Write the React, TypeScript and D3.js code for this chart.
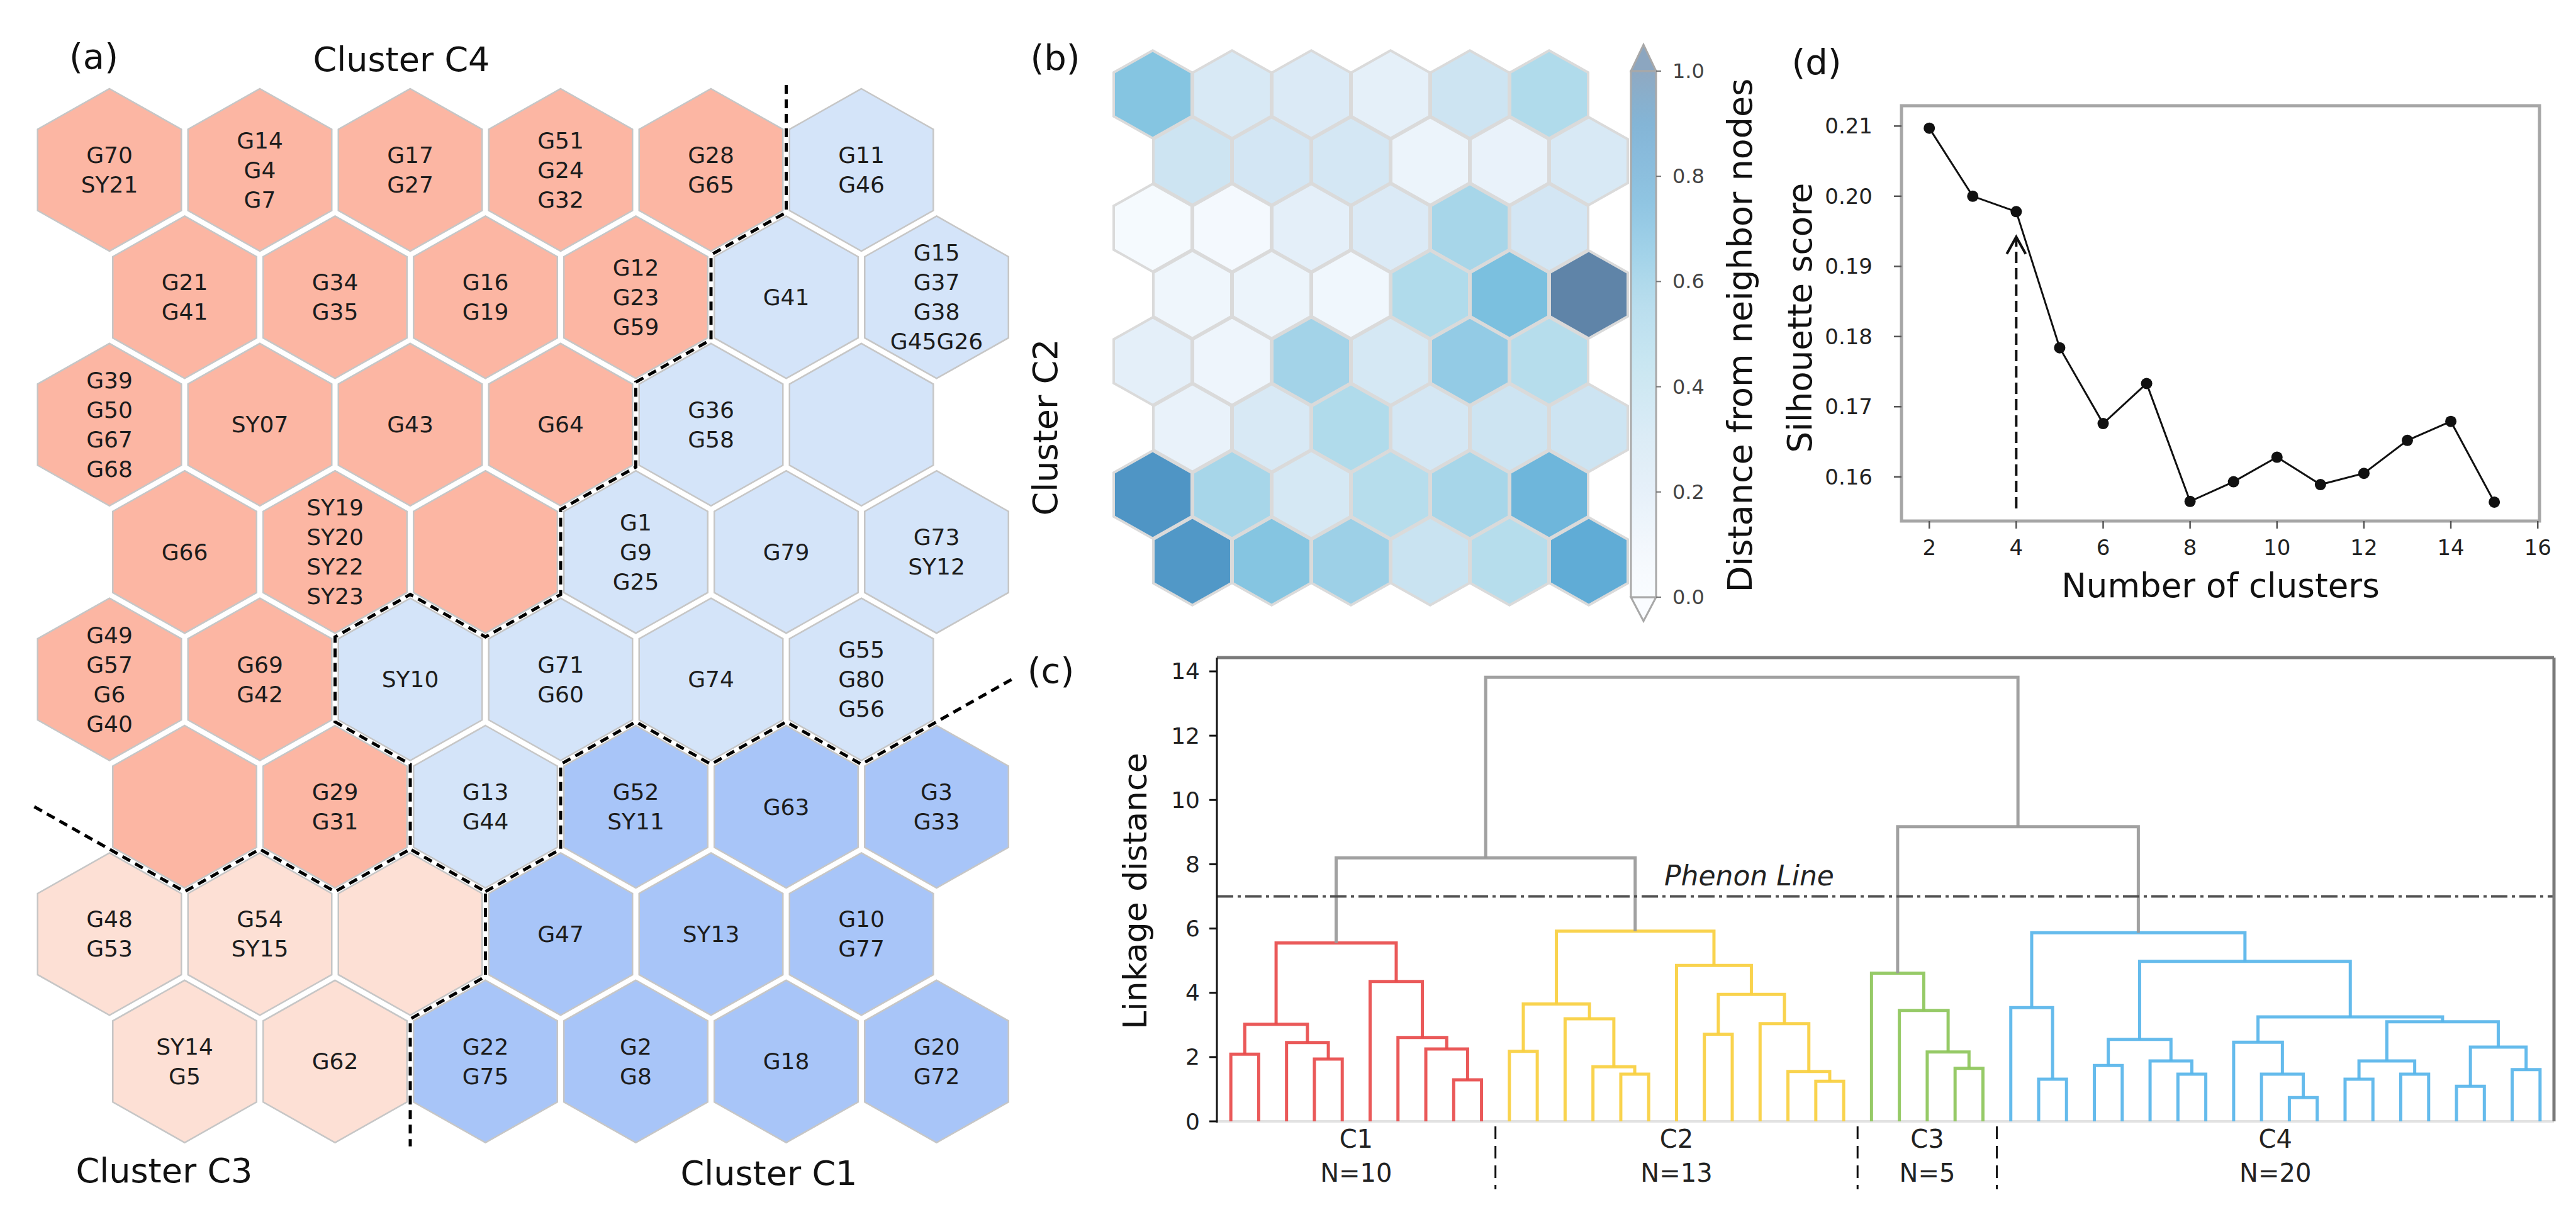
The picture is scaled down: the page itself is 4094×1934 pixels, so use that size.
import React from "react";
import * as d3 from "d3";

const W = 4094;
const H = 1934;
const FONT = "DejaVu Sans, sans-serif";

// ---------------- Panel (a): SOM clusters ----------------
const somLabels: string[][][] = [
  [["G70", "SY21"], ["G14", "G4", "G7"], ["G17", "G27"], ["G51", "G24", "G32"], ["G28", "G65"], ["G11", "G46"]],
  [["G21", "G41"], ["G34", "G35"], ["G16", "G19"], ["G12", "G23", "G59"], ["G41"], ["G15", "G37", "G38", "G45G26"]],
  [["G39", "G50", "G67", "G68"], ["SY07"], ["G43"], ["G64"], ["G36", "G58"], []],
  [["G66"], ["SY19", "SY20", "SY22", "SY23"], [], ["G1", "G9", "G25"], ["G79"], ["G73", "SY12"]],
  [["G49", "G57", "G6", "G40"], ["G69", "G42"], ["SY10"], ["G71", "G60"], ["G74"], ["G55", "G80", "G56"]],
  [[], ["G29", "G31"], ["G13", "G44"], ["G52", "SY11"], ["G63"], ["G3", "G33"]],
  [["G48", "G53"], ["G54", "SY15"], [], ["G47"], ["SY13"], ["G10", "G77"]],
  [["SY14", "G5"], ["G62"], ["G22", "G75"], ["G2", "G8"], ["G18"], ["G20", "G72"]],
];
const somClusters: number[][] = [
  [4, 4, 4, 4, 4, 2],
  [4, 4, 4, 4, 2, 2],
  [4, 4, 4, 4, 2, 2],
  [4, 4, 4, 2, 2, 2],
  [4, 4, 2, 2, 2, 2],
  [4, 4, 2, 1, 1, 1],
  [3, 3, 3, 1, 1, 1],
  [3, 3, 1, 1, 1, 1],
];
const clusterFill: Record<number, string> = {
  1: "#a8c5f8",
  2: "#d4e4f9",
  3: "#fde0d5",
  4: "#fcb6a3",
};
// cluster boundaries as lattice vertices (u = half-column, v = third-of-row)
const boundaryLines: [number, number][][] = [
  [[9, -2], [9, 1], [8, 2], [8, 4], [7, 5], [7, 7], [6, 8], [6, 10], [5, 11], [4, 10], [3, 11], [3, 13], [4, 14], [4, 16], [5, 17], [5, 19], [4, 20], [4, 23]],
  [[-1, 15], [0, 16], [1, 17], [2, 16], [3, 17], [4, 16]],
  [[5, 17], [6, 16], [6, 14], [7, 13], [8, 14], [9, 13], [10, 14], [11, 13], [12, 12]],
];
const somClusterTitles = [
  { text: "Cluster C4", x: 638, y: 94 },
  { text: "Cluster C3", x: 261, y: 1860 },
  { text: "Cluster C1", x: 1222, y: 1864 },
];

// ---------------- Panel (b): U-matrix ----------------
const uMatrix: number[][] = [
  [0.62, 0.22, 0.2, 0.14, 0.3, 0.45],
  [0.3, 0.26, 0.25, 0.1, 0.12, 0.22],
  [0.02, 0.03, 0.15, 0.2, 0.5, 0.26],
  [0.07, 0.1, 0.06, 0.45, 0.65, 1.05],
  [0.15, 0.08, 0.52, 0.24, 0.58, 0.42],
  [0.12, 0.22, 0.45, 0.25, 0.3, 0.3],
  [0.9, 0.5, 0.24, 0.42, 0.5, 0.7],
  [0.88, 0.62, 0.55, 0.32, 0.42, 0.75],
];
const uStops = [0, 0.1, 0.2, 0.3, 0.45, 0.55, 0.65, 0.75, 0.9, 1.0];
const uColors = ["#f7fbff", "#ecf4fb", "#dbeaf6", "#cde4f2", "#b0dbeb", "#9dd0e7", "#7bc0df", "#60acd6", "#4f95c5", "#5f84a8"];
const colorbarTicks = [0, 0.2, 0.4, 0.6, 0.8, 1.0];

// ---------------- Panel (c): dendrogram ----------------
const leafCount = 48;
// [left child, right child, height, colour key]
const linkage: [number, number, number, string][] = [
  [0, 1, 2.09, "r"], [3, 4, 1.94, "r"], [2, 49, 2.45, "r"], [48, 50, 3.02, "r"],
  [8, 9, 1.29, "r"], [7, 52, 2.25, "r"], [6, 53, 2.61, "r"], [5, 54, 4.35, "r"],
  [51, 55, 5.55, "r"],
  [10, 11, 2.18, "y"], [14, 15, 1.47, "y"], [13, 58, 1.7, "y"], [12, 59, 3.19, "y"],
  [57, 60, 3.65, "y"], [17, 18, 2.71, "y"], [21, 22, 1.25, "y"], [20, 63, 1.55, "y"],
  [19, 64, 3.04, "y"], [62, 65, 3.95, "y"], [16, 66, 4.85, "y"], [61, 67, 5.92, "y"],
  [56, 68, 8.2, "k"],
  [26, 27, 1.65, "g"], [25, 70, 2.16, "g"], [24, 71, 3.45, "g"], [23, 72, 4.61, "g"],
  [29, 30, 1.31, "b"], [28, 74, 3.54, "b"], [31, 32, 1.74, "b"], [34, 35, 1.47, "b"],
  [33, 77, 1.88, "b"], [76, 78, 2.55, "b"], [38, 39, 0.74, "b"], [37, 80, 1.47, "b"],
  [36, 81, 2.46, "b"], [40, 41, 1.31, "b"], [42, 43, 1.47, "b"], [83, 84, 1.88, "b"],
  [44, 45, 1.09, "b"], [46, 47, 1.61, "b"], [86, 87, 2.31, "b"], [85, 88, 3.1, "b"],
  [82, 89, 3.25, "b"], [79, 90, 4.98, "b"], [75, 91, 5.87, "b"],
  [73, 92, 9.17, "k"], [69, 93, 13.82, "k"],
];
const linkColors: Record<string, string> = {
  r: "#e84b4b",
  y: "#f8cf3f",
  g: "#8dc65a",
  b: "#58b5ea",
  k: "#999999",
};
const dendroClusters = ["C1", "C2", "C3", "C4"];
const dendroSizes = [10, 13, 5, 20];
const phenonHeight = 7;
const linkageTicks = [0, 2, 4, 6, 8, 10, 12, 14];

// ---------------- Panel (d): silhouette ----------------
const nClusters = [2, 3, 4, 5, 6, 7, 8, 9, 10, 11, 12, 13, 14, 15];
const silhouette = [0.2097, 0.2, 0.1978, 0.1784, 0.1676, 0.1733, 0.1565, 0.1593, 0.1628, 0.1589, 0.1605, 0.1652, 0.1679, 0.1564];
const silXTicks = [2, 4, 6, 8, 10, 12, 14, 16];
const silYTicks = [0.16, 0.17, 0.18, 0.19, 0.2, 0.21];
const chosenK = 4;
const arrowFrom = 0.1555;
const arrowTo = 0.1942;

function hexPoints(cx: number, cy: number, hw: number, r: number): string {
  const p = [
    [cx, cy - r], [cx + hw, cy - r / 2], [cx + hw, cy + r / 2],
    [cx, cy + r], [cx - hw, cy + r / 2], [cx - hw, cy - r / 2],
  ];
  return p.map((q) => q.join(",")).join(" ");
}

function PanelA() {
  const colStep = 239;
  const rowStep = 202.4;
  const U = d3.scaleLinear().domain([0, 1]).range([174, 174 + colStep / 2]);
  const V = d3.scaleLinear().domain([0, 1]).range([270, 270 + rowStep / 3]);
  const rT = rowStep / 1.5;
  const shrink = 0.956;
  const line = d3.line<[number, number]>().x((d) => U(d[0])).y((d) => V(d[1]));
  const cells: JSX.Element[] = [];
  somLabels.forEach((row, r) =>
    row.forEach((labels, c) => {
      const u = 2 * c + (r % 2);
      const v = 3 * r;
      const cx = U(u), cy = V(v);
      cells.push(
        <g key={`a${r}-${c}`}>
          <polygon points={hexPoints(cx, cy, (colStep / 2) * shrink, rT * shrink)} fill={clusterFill[somClusters[r][c]]} stroke="#c6c6c6" strokeWidth={2.5} />
          {labels.map((t, i) => (
            <text key={i} x={cx} y={cy + (i - (labels.length - 1) / 2) * 47} textAnchor="middle" dominantBaseline="central" fontFamily={FONT} fontSize={36} fill="#1c1c1c">{t}</text>
          ))}
        </g>
      );
    })
  );
  return (
    <g>
      {cells}
      {boundaryLines.map((b, i) => (
        <path key={i} d={line(b) || ""} fill="none" stroke="#000" strokeWidth={5} strokeDasharray="14 9" />
      ))}
      {somClusterTitles.map((t) => (
        <text key={t.text} x={t.x} y={t.y} textAnchor="middle" dominantBaseline="central" fontFamily={FONT} fontSize={54} fill="#111">{t.text}</text>
      ))}
      <text x={149} y={89} textAnchor="middle" dominantBaseline="central" fontFamily={FONT} fontSize={56} fill="#111">(a)</text>
    </g>
  );
}

function PanelB() {
  const colStep = 126;
  const rowStep = 106;
  const X = d3.scaleLinear().domain([0, 1]).range([1832, 1832 + colStep / 2]);
  const Y = d3.scaleLinear().domain([0, 1]).range([150, 150 + rowStep / 3]);
  const rT = rowStep / 1.5;
  const color = d3.scaleLinear<string>().domain(uStops).range(uColors).interpolate(d3.interpolateRgb).clamp(true);
  const cb = d3.scaleLinear().domain([0, 1]).range([949, 113]);
  const cbX0 = 2592, cbX1 = 2632;
  const stops = d3.range(0, 1.0001, 0.05);
  return (
    <g>
      <defs>
        <linearGradient id="cbgrad" x1="0" y1="1" x2="0" y2="0">
          {stops.map((s) => (
            <stop key={s} offset={s} stopColor={d3.interpolateRgb("#ffffff", color(s))(0.7)} />
          ))}
        </linearGradient>
      </defs>
      {uMatrix.map((row, r) =>
        row.map((val, c) => {
          const cx = X(2 * c + (r % 2));
          const cy = Y(3 * r);
          return <polygon key={`b${r}-${c}`} points={hexPoints(cx, cy, colStep / 2 - 1, rT - 1)} fill={color(val)} stroke="#dadada" strokeWidth={4} />;
        })
      )}
      <path d={`M${cbX0},${cb(1)} L${(cbX0 + cbX1) / 2},${cb(1) - 42} L${cbX1},${cb(1)} Z`} fill={d3.interpolateRgb("#ffffff", color(1))(0.72)} stroke="#a8a8a8" strokeWidth={3} />
      <path d={`M${cbX0},${cb(0)} L${(cbX0 + cbX1) / 2},${cb(0) + 38} L${cbX1},${cb(0)} Z`} fill="#fafcff" stroke="#a8a8a8" strokeWidth={3} />
      <rect x={cbX0} y={cb(1)} width={cbX1 - cbX0} height={cb(0) - cb(1)} fill="url(#cbgrad)" stroke="#a8a8a8" strokeWidth={3} />
      {colorbarTicks.map((t) => (
        <g key={t}>
          <line x1={cbX1} x2={cbX1 + 8} y1={cb(t)} y2={cb(t)} stroke="#777" strokeWidth={2} />
          <text x={2658} y={cb(t)} dominantBaseline="central" fontFamily={FONT} fontSize={32} fill="#444">{t.toFixed(1)}</text>
        </g>
      ))}
      <text transform={`translate(2765,533) rotate(-90)`} textAnchor="middle" dominantBaseline="central" fontFamily={FONT} fontSize={54} fill="#111">Distance from neighbor nodes</text>
      <text transform={`translate(1661,679) rotate(-90)`} textAnchor="middle" dominantBaseline="central" fontFamily={FONT} fontSize={54} fill="#111">Cluster C2</text>
      <text x={1677} y={91} textAnchor="middle" dominantBaseline="central" fontFamily={FONT} fontSize={56} fill="#111">(b)</text>
    </g>
  );
}

function PanelC() {
  const left = 1934, right = 4059, top = 1045, bottom = 1782;
  const X = d3.scaleLinear().domain([0, leafCount * 10]).range([left, right]);
  const Y = d3.scaleLinear().domain([0, 14.43]).range([bottom, top]);
  const xs: number[] = [];
  const hs: number[] = [];
  for (let i = 0; i < leafCount; i++) {
    xs[i] = 5 + 10 * i;
    hs[i] = 0;
  }
  linkage.forEach(([a, b, h], k) => {
    xs[leafCount + k] = (xs[a] + xs[b]) / 2;
    hs[leafCount + k] = h;
  });
  let start = 0;
  const groups = dendroClusters.map((name, i) => {
    const s = start;
    start += dendroSizes[i];
    return { name, n: dendroSizes[i], from: s, to: start };
  });
  return (
    <g>
      <line x1={left} x2={right} y1={bottom} y2={bottom} stroke="#e2e2e2" strokeWidth={4} />
      {linkage.map(([a, b, h, ck], k) => (
        <path key={k} d={`M${X(xs[a])},${Y(hs[a])}V${Y(h)}H${X(xs[b])}V${Y(hs[b])}`} fill="none" stroke={linkColors[ck]} strokeWidth={5} strokeOpacity={0.92} />
      ))}
      <line x1={left} x2={right} y1={Y(phenonHeight)} y2={Y(phenonHeight)} stroke="#505050" strokeWidth={4} strokeDasharray="26 7 5 7" />
      <text x={2780} y={1391} textAnchor="middle" dominantBaseline="central" fontFamily={FONT} fontStyle="italic" fontSize={44} fill="#222">Phenon Line</text>
      <line x1={left} x2={right} y1={top} y2={top} stroke="#7a7a7a" strokeWidth={5} />
      <line x1={right} x2={right} y1={top} y2={bottom} stroke="#7a7a7a" strokeWidth={5} />
      <line x1={left} x2={left} y1={top} y2={bottom + 2} stroke="#111" strokeWidth={3} />
      {linkageTicks.map((t) => (
        <g key={t}>
          <line x1={left - 12} x2={left} y1={Y(t)} y2={Y(t)} stroke="#111" strokeWidth={3} />
          <text x={1907} y={Y(t)} textAnchor="end" dominantBaseline="central" fontFamily={FONT} fontSize={36} fill="#222">{t}</text>
        </g>
      ))}
      {groups.map((g, i) => {
        const cx = X(((g.from + g.to - 1) / 2) * 10 + 5);
        return (
          <g key={g.name}>
            <text x={cx} y={1810} textAnchor="middle" dominantBaseline="central" fontFamily={FONT} fontSize={40} fill="#222">{g.name}</text>
            <text x={cx} y={1864} textAnchor="middle" dominantBaseline="central" fontFamily={FONT} fontSize={40} fill="#222">{`N=${g.n}`}</text>
            {i > 0 && (
              <line x1={X(g.from * 10)} x2={X(g.from * 10)} y1={1790} y2={1890} stroke="#111" strokeWidth={3} strokeDasharray="20 11" />
            )}
          </g>
        );
      })}
      <text transform={`translate(1804,1416) rotate(-90)`} textAnchor="middle" dominantBaseline="central" fontFamily={FONT} fontSize={52} fill="#111">Linkage distance</text>
      <text x={1670} y={1065} textAnchor="middle" dominantBaseline="central" fontFamily={FONT} fontSize={56} fill="#111">(c)</text>
    </g>
  );
}

function PanelD() {
  const left = 3022, right = 4036, top = 168, bottom = 828;
  const X = d3.scaleLinear().domain([1.36, 16.04]).range([left, right]);
  const Y = d3.scaleLinear().domain([0.1537, 0.2129]).range([bottom, top]);
  const pts = nClusters.map((k, i) => [k, silhouette[i]] as [number, number]);
  const line = d3.line<[number, number]>().x((d) => X(d[0])).y((d) => Y(d[1]));
  const ax = X(chosenK);
  const ay = Y(arrowTo);
  return (
    <g>
      <rect x={left} y={top} width={right - left} height={bottom - top} fill="none" stroke="#a6a6a6" strokeWidth={5} />
      {silXTicks.map((t) => (
        <g key={t}>
          <line x1={X(t)} x2={X(t)} y1={bottom} y2={bottom + 12} stroke="#555" strokeWidth={2.5} />
          <text x={X(t)} y={870} textAnchor="middle" dominantBaseline="central" fontFamily={FONT} fontSize={34} fill="#222">{t}</text>
        </g>
      ))}
      {silYTicks.map((t) => (
        <g key={t}>
          <line x1={left - 12} x2={left} y1={Y(t)} y2={Y(t)} stroke="#555" strokeWidth={2.5} />
          <text x={2976} y={Y(t)} textAnchor="end" dominantBaseline="central" fontFamily={FONT} fontSize={34} fill="#222">{t.toFixed(2)}</text>
        </g>
      ))}
      <path d={line(pts) || ""} fill="none" stroke="#111" strokeWidth={3} />
      {pts.map((p, i) => (
        <circle key={i} cx={X(p[0])} cy={Y(p[1])} r={9} fill="#111" />
      ))}
      <line x1={ax} x2={ax} y1={Y(arrowFrom)} y2={ay + 3} stroke="#111" strokeWidth={4} strokeDasharray="18 8" />
      <path d={`M${ax - 15},${ay + 27} L${ax},${ay} L${ax + 15},${ay + 27}`} fill="none" stroke="#111" strokeWidth={4} />
      <text transform={`translate(2860,505) rotate(-90)`} textAnchor="middle" dominantBaseline="central" fontFamily={FONT} fontSize={53} fill="#111">Silhouette score</text>
      <text x={3529} y={930} textAnchor="middle" dominantBaseline="central" fontFamily={FONT} fontSize={53} fill="#111">Number of clusters</text>
      <text x={2887} y={98} textAnchor="middle" dominantBaseline="central" fontFamily={FONT} fontSize={56} fill="#111">(d)</text>
    </g>
  );
}

export default function App() {
  return (
    <svg width={W} height={H} viewBox={`0 0 ${W} ${H}`} style={{ position: "absolute", left: 0, top: 0, background: "#fff" }} xmlns="http://www.w3.org/2000/svg">
      <rect x={0} y={0} width={W} height={H} fill="#fff" />
      <PanelA />
      <PanelB />
      <PanelC />
      <PanelD />
    </svg>
  );
}
